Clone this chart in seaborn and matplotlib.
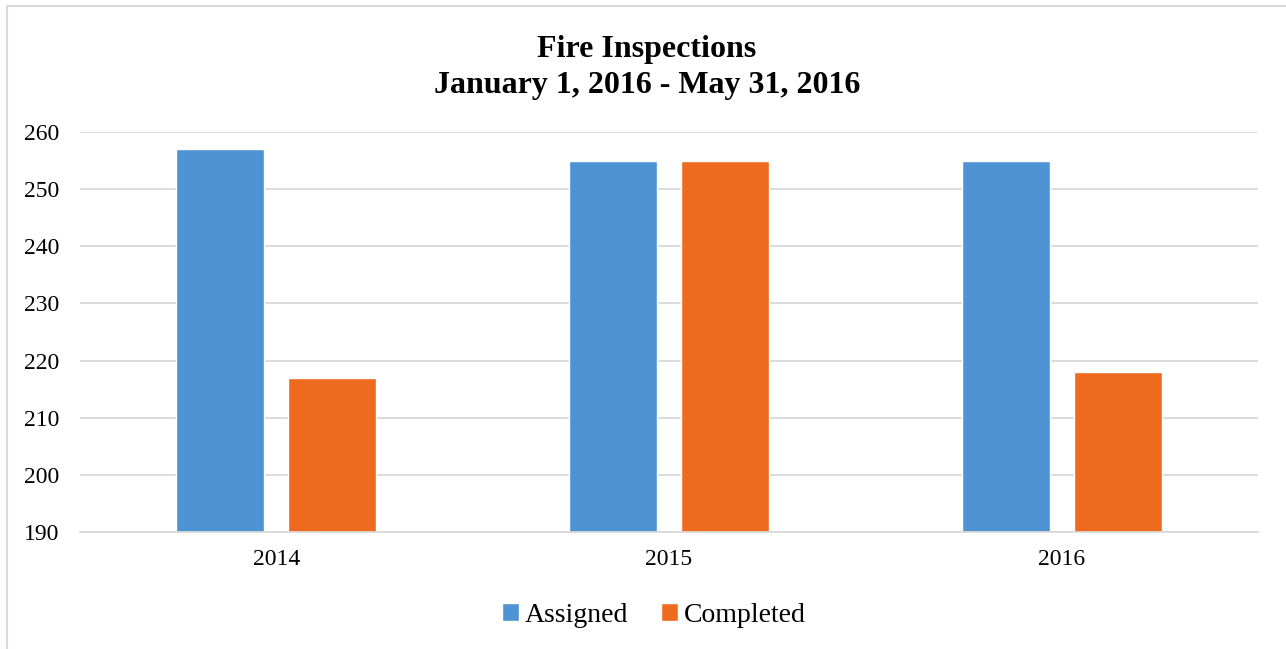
import pandas as pd
import seaborn as sns
import matplotlib.pyplot as plt
from matplotlib.lines import Line2D

# Data
years = ['2014', '2015', '2016']
assigned = [257, 255, 255]
completed = [217, 255, 218]
series_names = ['Assigned', 'Completed']
palette = ['#4E94D5', '#EE6A1E']

df = pd.DataFrame({
    'Year': years * 2,
    'Count': assigned + completed,
    'Series': [series_names[0]] * len(years) + [series_names[1]] * len(years),
})

sns.set_theme(style='white')
plt.rcParams['font.family'] = ['Liberation Serif', 'DejaVu Serif']
plt.rcParams['text.color'] = 'black'

fig = plt.figure(figsize=(12.86, 6.49), dpi=100)
ax = fig.add_axes([80 / 1286, 1 - 532 / 649, 1178 / 1286, 400 / 649])

sns.barplot(data=df, x='Year', y='Count', hue='Series', palette=palette,
            width=0.57, gap=0.214, ax=ax, saturation=1, legend=True)

ax.set_ylim(190, 260)
ax.set_yticks(range(190, 261, 10))
ax.set_xlim(-0.5, 2.5)
ax.yaxis.grid(True, color='#D9D9D9', linewidth=1.3)
ax.set_axisbelow(True)
for s in ['top', 'right', 'left']:
    ax.spines[s].set_visible(False)
ax.spines['bottom'].set_color('#D9D9D9')
ax.spines['bottom'].set_linewidth(1.3)
ax.tick_params(axis='both', length=0, labelsize=17, colors='black')
ax.tick_params(axis='y', pad=15)
ax.tick_params(axis='x', pad=12)
ax.set_xlabel('')
ax.set_ylabel('')

fig.text(0.503, 1 - 49 / 649, 'Fire Inspections', ha='center', va='center',
         fontsize=23, fontweight='bold', color='black')
fig.text(0.503, 1 - 85 / 649, 'January 1, 2016 - May 31, 2016', ha='center', va='center',
         fontsize=23, fontweight='bold', color='black')

leg = ax.legend(loc='center', ncol=2, frameon=False,
                fontsize=20, handlelength=0.6, handleheight=0.6, handletextpad=0.2,
                columnspacing=1.2)
leg.set_bbox_to_anchor((654 / 1286, 1 - 615 / 649), transform=fig.transFigure)
for t in leg.get_texts():
    t.set_color('black')

# light grey chart border (top and left edges)
fig.add_artist(Line2D([7 / 1286, 1], [1 - 6 / 649, 1 - 6 / 649], color='#D9D9D9',
                      linewidth=1.5, transform=fig.transFigure))
fig.add_artist(Line2D([7 / 1286, 7 / 1286], [0, 1 - 6 / 649], color='#D9D9D9',
                      linewidth=1.5, transform=fig.transFigure))

fig.savefig('out.png', dpi=100, facecolor='white')
